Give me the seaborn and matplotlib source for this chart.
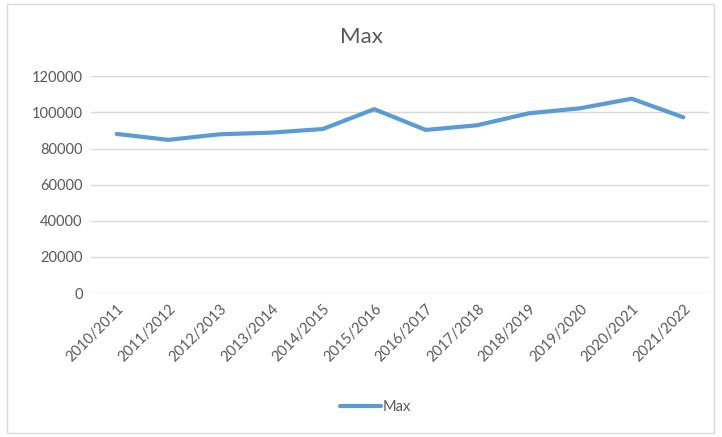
import matplotlib
matplotlib.use("Agg")
import matplotlib.pyplot as plt
import seaborn as sns
import pandas as pd
from matplotlib.patches import Rectangle

seasons = ["2010/2011", "2011/2012", "2012/2013", "2013/2014", "2014/2015", "2015/2016",
           "2016/2017", "2017/2018", "2018/2019", "2019/2020", "2020/2021", "2021/2022"]
max_values = [88100, 84800, 87900, 88800, 90800, 101800, 90300, 92900, 99500, 102300, 107600, 97300]
y_ticks = [0, 20000, 40000, 60000, 80000, 100000, 120000]

sns.set_theme(style="white")
plt.rcParams['font.family'] = ['Lato', 'DejaVu Sans']

df = pd.DataFrame({"Season": seasons, "Max": max_values})

fig = plt.figure(figsize=(7.22, 4.37), dpi=100)
ax = fig.add_axes([0.126, 0.3295, 0.856, 0.4959])

sns.lineplot(data=df, x="Season", y="Max", ax=ax, color="#5B9BD5", linewidth=3,
             sort=False, label="Max", legend=False)

ax.set_ylim(0, 120000)
ax.set_xlim(-0.5, len(seasons) - 0.5)
ax.set_yticks(y_ticks)
ax.set_yticklabels([str(v) for v in y_ticks], fontsize=10.5, color="#595959")
ax.set_xticks(range(len(seasons)))
ax.set_xticklabels(seasons, rotation=45, ha="right", rotation_mode="anchor",
                   fontsize=10.5, color="#595959")
ax.tick_params(axis="both", length=0, pad=6)
ax.yaxis.grid(True, color="#D9D9D9", linewidth=1)
ax.xaxis.grid(False)
for s in ax.spines.values():
    s.set_visible(False)
ax.set_xlabel("")
ax.set_ylabel("")

fig.text(0.5, 1 - 37 / 437, "Max", ha="center", va="center", fontsize=16, color="#595959")

handles, labels = ax.get_legend_handles_labels()
fig.legend(handles, labels, loc="center", bbox_to_anchor=(0.52, 1 - 407 / 437),
           frameon=False, fontsize=10.5, handlelength=2.8, handletextpad=0.1,
           labelcolor="#595959")

fig.patches.append(Rectangle((7 / 722, 4 / 437), 707 / 722, 429 / 437,
                             transform=fig.transFigure, fill=False,
                             edgecolor="#D9D9D9", linewidth=1))

fig.savefig("out.png", dpi=100)
